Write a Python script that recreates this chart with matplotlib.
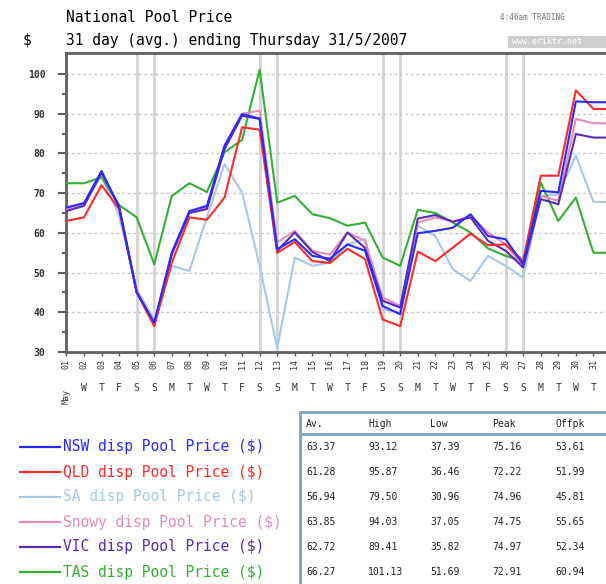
import datetime
import matplotlib
matplotlib.use("Agg")
import matplotlib.pyplot as plt
from matplotlib.lines import Line2D
from matplotlib.patches import Rectangle
import matplotlib.transforms as mtransforms

plt.rcParams['font.family'] = ['DejaVu Sans Mono']

days = list(range(1, 33))  # May 1..31, last point carried to the right edge

nsw = [66.4, 67.5, 75.6, 66.4, 45.0, 37.4, 55.0, 65.5, 66.8, 81.9, 89.9, 88.8, 55.9, 58.4, 54.2, 53.5,
       57.1, 55.5, 41.6, 39.5, 59.9, 60.5, 61.3, 64.7, 59.2, 58.4, 52.1, 70.6, 70.2, 93.1, 92.9, 92.9]
qld = [63.0, 63.9, 72.0, 66.0, 45.0, 36.5, 52.5, 63.9, 63.3, 68.9, 86.6, 86.0, 55.0, 57.7, 52.9, 52.4,
       56.0, 53.4, 38.2, 36.5, 55.3, 52.9, 56.3, 59.8, 56.9, 57.1, 52.9, 74.4, 74.4, 95.9, 91.2, 91.2]
sa = [66.0, 67.2, 74.4, 64.3, 45.8, 38.2, 51.7, 50.4, 64.0, 77.3, 70.2, 51.7, 31.0, 53.8, 51.7, 52.5,
      57.1, 58.4, 40.8, 39.9, 61.8, 59.2, 50.8, 47.9, 54.2, 51.7, 48.7, 69.3, 69.7, 79.5, 67.8, 67.8]
snowy = [66.0, 67.3, 75.3, 66.4, 45.3, 37.1, 55.0, 65.2, 66.4, 82.0, 90.0, 90.8, 57.6, 60.5, 55.5, 54.5,
         60.1, 58.0, 43.7, 41.6, 62.6, 63.9, 62.8, 64.3, 60.1, 57.1, 51.7, 69.3, 68.1, 88.7, 87.6, 87.6]
vic = [65.5, 66.8, 75.2, 66.8, 45.1, 37.0, 54.6, 65.0, 66.0, 81.1, 89.5, 88.7, 55.5, 60.1, 55.2, 52.9,
       60.1, 56.2, 42.9, 41.2, 63.6, 64.5, 62.8, 63.9, 58.0, 55.5, 51.3, 68.5, 67.2, 84.9, 84.0, 84.0]
tas = [72.5, 72.5, 74.0, 67.0, 63.9, 52.1, 69.3, 72.5, 70.3, 80.3, 83.4, 101.1, 67.6, 69.3, 64.7, 63.7,
       61.8, 62.6, 53.8, 51.7, 65.8, 65.0, 62.6, 60.1, 56.1, 54.2, 52.9, 72.7, 63.0, 68.9, 55.0, 55.0]

names = ['NSW', 'QLD', 'SA', 'Snowy', 'VIC', 'TAS']
colors = ['#2a2aff', '#ff2a2a', '#a9c7e6', '#e28cbc', '#5a2cb4', '#34b034']
series = [nsw, qld, sa, snowy, vic, tas]

headers = ['Av.', 'High', 'Low', 'Peak', 'Offpk']
stats = [
    ['63.37', '93.12', '37.39', '75.16', '53.61'],
    ['61.28', '95.87', '36.46', '72.22', '51.99'],
    ['56.94', '79.50', '30.96', '74.96', '45.81'],
    ['63.85', '94.03', '37.05', '74.75', '55.65'],
    ['62.72', '89.41', '35.82', '74.97', '52.34'],
    ['66.27', '101.13', '51.69', '72.91', '60.94'],
]

W, H = 606, 584
fig = plt.figure(figsize=(W / 100, H / 100), dpi=100)

# axes placed in pixel terms: day 1 at x=66, day 32 at x=611 (off canvas)
ax = fig.add_axes([66.4 / W, (H - 352) / H, (611 - 66.4) / W, 299 / H])
ax.set_xlim(1, 32)
ax.set_ylim(30, 105.3)

# weekend markers
for d in [5, 6, 12, 13, 19, 20, 26, 27]:
    ax.axvline(d, color='#d4d4d4', lw=2, zorder=1)
for v in range(40, 101, 10):
    ax.axhline(v, color='#c8c8c8', lw=1, ls=(0, (2, 2)), zorder=1)

order = [2, 5, 3, 4, 1, 0]
for i in order:
    ax.plot(days, series[i], color=colors[i], lw=1.5, zorder=3)

for s in ['left', 'bottom', 'top']:
    ax.spines[s].set_color('#606060')
    ax.spines[s].set_linewidth(2)
ax.spines['right'].set_visible(False)

ax.set_yticks(range(30, 101, 10))
ax.set_yticks(range(35, 101, 10), minor=True)
ax.tick_params(axis='y', which='major', length=6, width=1.5, color='#606060',
               labelsize=7, labelcolor='#333333', pad=9)
ax.tick_params(axis='y', which='minor', length=3, width=1.5, color='#606060')
for lab in ax.get_yticklabels():
    lab.set_fontweight('bold')

ax.set_xticks(range(1, 32))
ax.set_xticklabels(['%02d' % d for d in range(1, 32)], rotation=90,
                   fontsize=6, color='#333333')
ax.tick_params(axis='x', length=3, width=1, color='#606060', pad=2)

trans = mtransforms.blended_transform_factory(ax.transData, ax.transAxes)
start = datetime.date(2007, 5, 1)
for d in range(1, 32):
    if d == 1:
        ax.text(d, -(396 - 352) / 299, 'May', rotation=90, fontsize=6, color='#333333',
                ha='center', va='center', transform=trans)
    else:
        letter = 'MTWTFSS'[(start + datetime.timedelta(days=d - 1)).weekday()]
        ax.text(d, -(388 - 352) / 299, letter, fontsize=7, color='#333333',
                ha='center', va='center', transform=trans)

# header texts
fig.text(66 / W, 1 - 18 / H, 'National Pool Price', fontsize=10.5, va='center', ha='left')
fig.text(66 / W, 1 - 40 / H, '31 day (avg.) ending Thursday 31/5/2007', fontsize=10.5,
         va='center', ha='left')
fig.text(27 / W, 1 - 40 / H, '$', fontsize=10.5, va='center', ha='center')
fig.text(500 / W, 1 - 18 / H, '4:46am TRADING', fontsize=5.5, color='#777777',
         va='center', ha='left')
fig.patches.append(Rectangle((508 / W, 1 - 48 / H), 110 / W, 12 / H, transform=fig.transFigure,
                             facecolor='#cfcfcf', edgecolor='none'))
fig.text(512 / W, 1 - 42 / H, 'www.eriktr.net', fontsize=6, color='white',
         va='center', ha='left')

# legend
row_y = [447, 472, 497, 522, 547, 572]
for i, name in enumerate(names):
    y = 1 - row_y[i] / H
    fig.add_artist(Line2D([20 / W, 60 / W], [y, y], color=colors[i], lw=1.6,
                          transform=fig.transFigure))
    fig.text(63 / W, y, '%s disp Pool Price ($)' % name, color=colors[i], fontsize=10.5,
             va='center', ha='left')

# stats table
fig.patches.append(Rectangle((300 / W, -0.05), 0.6, 1.05 - 412 / H, transform=fig.transFigure,
                             facecolor='white', edgecolor='#7fa3c0', lw=2))
fig.add_artist(Line2D([300 / W, 1], [1 - 434 / H, 1 - 434 / H], color='#7fa3c0', lw=2,
                      transform=fig.transFigure))
col_x = [306, 368, 430, 492, 555]
for j, h in enumerate(headers):
    fig.text(col_x[j] / W, 1 - 424 / H, h, fontsize=7, va='center', ha='left', color='#222222')
for i, row in enumerate(stats):
    for j, val in enumerate(row):
        fig.text(col_x[j] / W, 1 - row_y[i] / H, val, fontsize=7, va='center', ha='left',
                 color='#222222')

fig.savefig('out.png', dpi=100)
